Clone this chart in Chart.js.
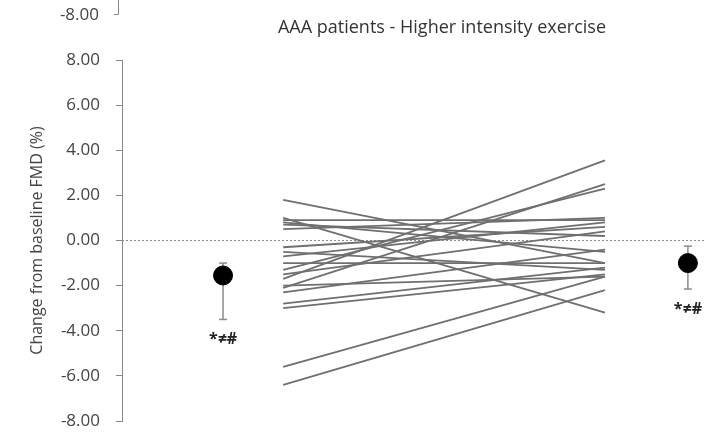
<!DOCTYPE html>
<html>
<head>
<meta charset="utf-8">
<script src="https://cdn.jsdelivr.net/npm/chart.js@4/dist/chart.umd.min.js"></script>
<style>
  html, body { margin: 0; padding: 0; background: #fff; }
  #wrap { width: 706px; height: 433px; position: relative; }
</style>
</head>
<body>
<div id="wrap"><canvas id="c" width="706" height="433"></canvas></div>
<script>
// ---- data ----
const chartTitle = "AAA patients - Higher intensity exercise";
const yAxisTitle = "Change from baseline FMD (%)";
const yTickValues = [-8, -6, -4, -2, 0, 2, 4, 6, 8];
const timepoints = ["Pre", "Post"];
// individual patients: change from baseline FMD (%)
const preValues  = [1.8, 1.0, 0.9, 0.8, 0.7, 0.5, -0.3, -0.5, -0.7, -1.0, -1.3, -1.5, -1.7, -2.0, -2.1, -2.3, -2.8, -3.0, -5.6, -6.4];
const postValues = [-1.0, -3.2, 0.9, -0.5, 0.2, 1.0, 0.6, -1.3, 0.8, -1.0, 2.3, 0.4, 3.55, -1.6, 2.5, -0.4, -1.2, -1.5, -1.6, -2.2];
// group summary
const meanValues = [-1.55, -1.0];
const errUpper   = [-1.0, -0.25];
const errLower   = [-3.5, -2.15];
const sigLabels  = ["*\u2260#", "*\u2260#"];
const previousPanelTick = "-8.00";

// ---- layout (horizontal slots on a hidden linear x-axis) ----
const slotMeanPre = 1.73, slotPre = 2.76, slotPost = 8.27, slotMeanPost = 9.69;
const meanSlots = [slotMeanPre, slotMeanPost];

const FONT = "'Open Sans', sans-serif";
const datasets = [];

// zero reference line
datasets.push({
  data: [{x: 0, y: 0}, {x: 10, y: 0}],
  borderColor: '#8a8a8a', borderWidth: 1, borderDash: [2, 2],
  pointRadius: 0, order: 5
});

// patient lines
preValues.forEach((v, i) => {
  datasets.push({
    data: [{x: slotPre, y: v}, {x: slotPost, y: postValues[i]}],
    borderColor: '#6f6f6f', borderWidth: 1.8,
    pointRadius: 0, order: 3
  });
});

// error bars
meanValues.forEach((m, i) => {
  datasets.push({
    data: [{x: meanSlots[i], y: errUpper[i]}, {x: meanSlots[i], y: errLower[i]}],
    borderColor: '#8c8c8c', borderWidth: 1.5,
    pointStyle: 'line', pointRadius: 4, pointBorderColor: '#8c8c8c', pointBorderWidth: 1.5,
    order: 2
  });
});

// mean points
datasets.push({
  data: meanValues.map((m, i) => ({x: meanSlots[i], y: m})),
  showLine: false, pointRadius: 9.5, pointBackgroundColor: '#000', pointBorderColor: '#000',
  order: 1
});

const extras = {
  id: 'extras',
  afterDatasetsDraw(chart) {
    const ctx = chart.ctx;
    const xs = chart.scales.x, ys = chart.scales.y;
    ctx.save();
    // chart title
    ctx.fillStyle = '#333';
    ctx.font = "18px " + FONT;
    ctx.textAlign = 'center';
    ctx.textBaseline = 'middle';
    ctx.fillText(chartTitle, 442, 28);
    // significance labels
    ctx.fillStyle = '#222';
    ctx.font = "bold 16px " + FONT;
    sigLabels.forEach((t, i) => {
      ctx.fillText(t, xs.getPixelForValue(meanSlots[i]), ys.getPixelForValue(errLower[i]) + 20);
    });
    // remnant of the panel above
    ctx.fillStyle = '#444';
    ctx.font = "17px " + FONT;
    ctx.textAlign = 'right';
    ctx.fillText(previousPanelTick, 99, 15);
    ctx.strokeStyle = '#888';
    ctx.lineWidth = 1;
    ctx.beginPath();
    ctx.moveTo(xs.left - 3.5, 0);
    ctx.lineTo(xs.left - 3.5, 14.5);
    ctx.lineTo(xs.left - 8, 14.5);
    ctx.stroke();
    ctx.restore();
  }
};

new Chart(document.getElementById('c'), {
  type: 'line',
  data: { datasets },
  options: {
    responsive: false,
    animation: false,
    layout: { autoPadding: false, padding: { left: 0, right: 0, top: 60, bottom: 12 } },
    plugins: {
      legend: { display: false },
      tooltip: { enabled: false },
      title: { display: false }
    },
    scales: {
      x: { type: 'linear', min: 0, max: 10, display: false },
      y: {
        type: 'linear', min: -8, max: 8,
        afterBuildTicks: (s) => { s.ticks = yTickValues.map(v => ({value: v})); },
        afterFit: (s) => { s.width = 122; s.paddingTop = 0; s.paddingBottom = 0; },
        border: { display: true, color: '#888', width: 1 },
        grid: { display: true, drawOnChartArea: false, drawTicks: true, tickLength: 6, color: '#888' },
        ticks: {
          color: '#444', padding: 16,
          font: { family: FONT, size: 17 },
          callback: (v) => Number(v).toFixed(2)
        },
        title: {
          display: true, text: yAxisTitle, color: '#444',
          font: { family: FONT, size: 16 }, padding: { top: 28, bottom: 0 }
        }
      }
    }
  },
  plugins: [extras]
});
</script>
</body>
</html>
